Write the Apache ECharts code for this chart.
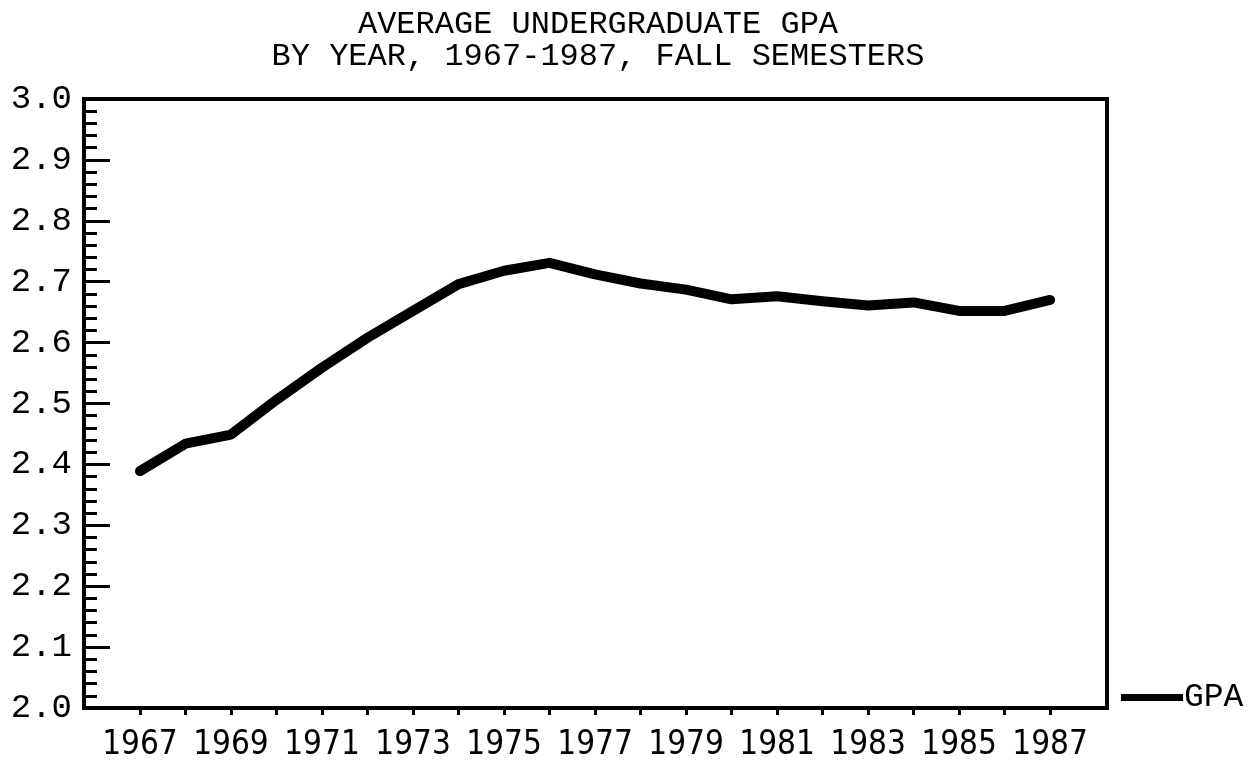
<!DOCTYPE html>
<html>
<head>
<meta charset="utf-8">
<script src="https://cdn.jsdelivr.net/npm/echarts@6/dist/echarts.min.js"></script>
<style>
  html, body { margin: 0; padding: 0; background: #fff; }
  #chart { width: 1252px; height: 770px; }
</style>
</head>
<body>
<div id="chart"></div>
<script>
// data
var years = [1967, 1968, 1969, 1970, 1971, 1972, 1973, 1974, 1975, 1976, 1977,
             1978, 1979, 1980, 1981, 1982, 1983, 1984, 1985, 1986, 1987];
var gpa = [2.389, 2.434, 2.449, 2.506, 2.559, 2.608, 2.652, 2.696, 2.718, 2.731, 2.712,
           2.697, 2.687, 2.671, 2.676, 2.668, 2.661, 2.666, 2.652, 2.652, 2.670];
var labelYears = [1967, 1969, 1971, 1973, 1975, 1977, 1979, 1981, 1983, 1985, 1987];
var titleLines = ["AVERAGE UNDERGRADUATE GPA", "BY YEAR, 1967-1987, FALL SEMESTERS"];
var seriesName = "GPA";

var cond = "'DejaVu Sans Condensed', 'Liberation Sans Narrow', sans-serif";
var mono = "'Liberation Mono', 'DejaVu Sans Mono', monospace";

var chart = echarts.init(document.getElementById("chart"));

var points = years.map(function (y, i) { return [y, gpa[i]]; });

chart.setOption({
  animation: false,
  backgroundColor: "#fff",
  title: {
    text: titleLines.join("\n"),
    left: 593,
    top: 4,
    textAlign: "center",
    textStyle: {
      fontFamily: mono,
      fontSize: 32,
      fontWeight: "normal",
      lineHeight: 32,
      color: "#000"
    }
  },
  // legend to the right of the frame, at the bottom
  legend: {
    left: 1116,
    top: 676,
    icon: "rect",
    itemWidth: 62,
    itemHeight: 7,
    itemGap: 0,
    textStyle: { fontFamily: mono, fontSize: 33, color: "#000", padding: [0, 0, 0, -4] },
    data: [seriesName]
  },
  grid: {
    left: 84,
    right: 145,
    top: 99,
    bottom: 62,
    show: true,
    borderColor: "#000",
    borderWidth: 4
  },
  xAxis: {
    type: "value",
    min: 1965.77,
    max: 1988.25,
    splitLine: { show: false },
    axisLine: { show: true, lineStyle: { color: "#000", width: 4 } },
    axisTick: {
      show: true,
      customValues: years,
      length: 7,
      lineStyle: { color: "#000", width: 3 }
    },
    axisLabel: {
      customValues: labelYears,
      formatter: function (v) { return String(v); },
      fontFamily: cond,
      fontSize: 33,
      color: "#000",
      margin: 21
    }
  },
  yAxis: {
    type: "value",
    min: 2,
    max: 3,
    interval: 0.1,
    splitLine: { show: false },
    axisLine: { show: true, lineStyle: { color: "#000", width: 4 } },
    axisTick: {
      show: true,
      inside: true,
      length: 26,
      lineStyle: { color: "#000", width: 3 }
    },
    minorTick: {
      show: true,
      splitNumber: 5,
      length: 13,
      lineStyle: { color: "#000", width: 3 }
    },
    axisLabel: {
      formatter: function (v) { return v.toFixed(1); },
      fontFamily: mono,
      fontSize: 34,
      color: "#000",
      margin: 12
    }
  },
  series: [{
    name: seriesName,
    type: "line",
    data: points,
    symbol: "none",
    color: "#000",
    lineStyle: { color: "#000", width: 10, join: "round", cap: "round" }
  }]
});
</script>
</body>
</html>
